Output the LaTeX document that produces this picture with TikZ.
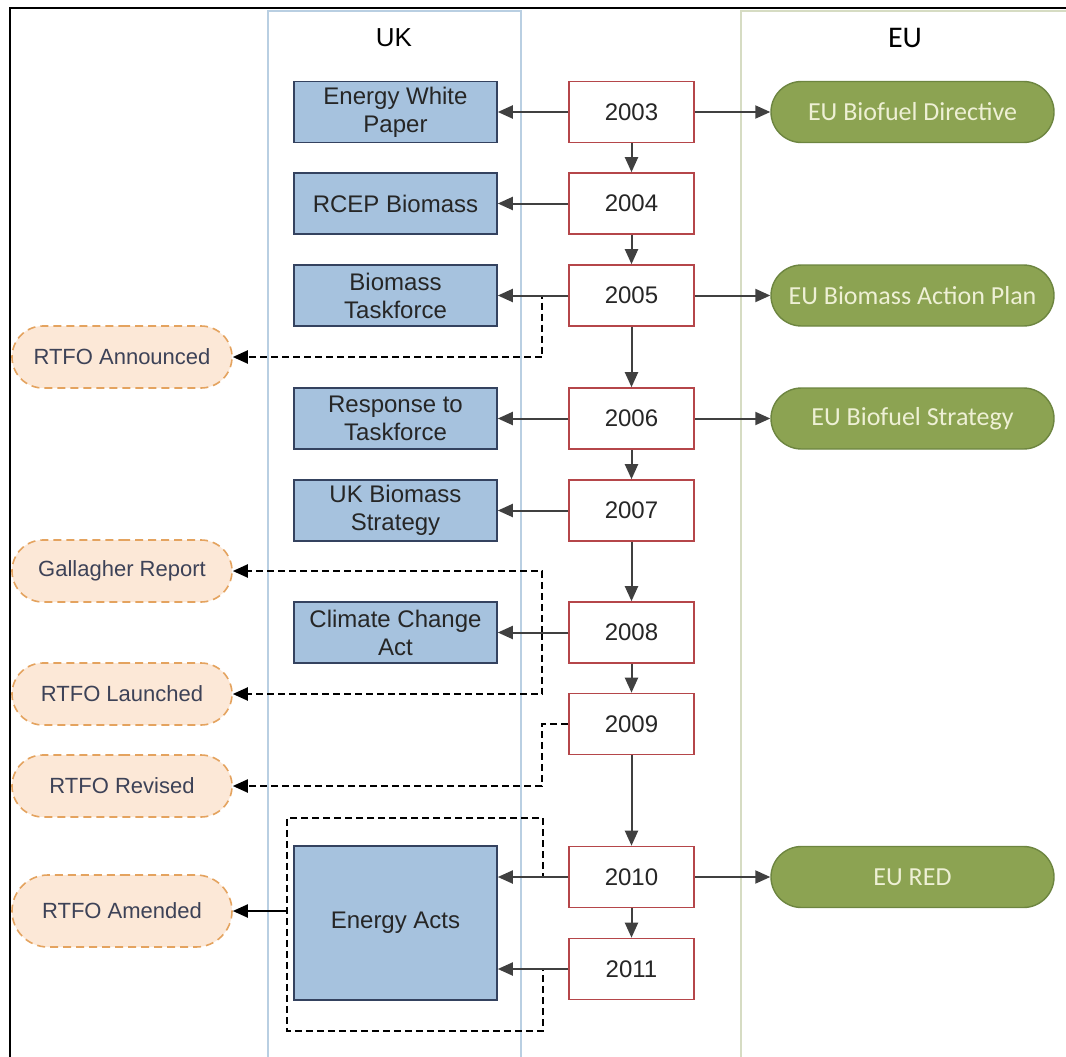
\documentclass[tikz,border=0pt]{standalone}
\usepackage{fontspec}
\setmainfont{Liberation Sans}
\newfontfamily\calibrifont{Carlito}
\usetikzlibrary{arrows.meta,shapes.misc}

\definecolor{ukfill}{HTML}{A6C2DE}
\definecolor{ukline}{HTML}{34425F}
\definecolor{yearline}{HTML}{B5464A}
\definecolor{eufill}{HTML}{8CA352}
\definecolor{euline}{HTML}{6D8540}
\definecolor{eutext}{HTML}{EEF0D5}
\definecolor{rtfofill}{HTML}{FCE8D7}
\definecolor{rtfoline}{HTML}{E4A35F}
\definecolor{rtfotext}{HTML}{3D4257}
\definecolor{arrowgray}{HTML}{404040}
\definecolor{uklane}{HTML}{B9CFE2}
\definecolor{eulane}{HTML}{D6DCC3}

\begin{document}
\begin{tikzpicture}[x=1pt,y=-1pt,
  yearbox/.style={rectangle, draw=yearline, line width=1.6pt, fill=white,
    minimum width=125pt, minimum height=61pt, inner sep=0pt,
    text=black!85, font=\fontsize{24}{28}\selectfont},
  ukbox/.style={rectangle, draw=ukline, line width=1.6pt, fill=ukfill,
    minimum width=203pt, minimum height=61pt, inner sep=0pt, align=center,
    text=black!85, font=\fontsize{24}{28}\selectfont},
  eupill/.style={rounded rectangle, draw=euline, line width=1.4pt, fill=eufill,
    minimum width=283pt, minimum height=61pt, inner sep=0pt,
    text=eutext, font=\calibrifont\fontsize{26}{30}\selectfont},
  rtfopill/.style={rounded rectangle, draw=rtfoline, line width=1.6pt,
    dash pattern=on 8pt off 5pt, fill=rtfofill,
    minimum width=220pt, minimum height=62pt, inner sep=0pt,
    text=rtfotext, font=\fontsize{22}{26}\selectfont},
  tip/.style={-{Triangle[length=15pt,width=13pt]}},
  solidarrow/.style={draw=arrowgray, line width=2pt, tip},
  dashconn/.style={draw=black, line width=2pt, dash pattern=on 7pt off 4pt},
  dasharrow/.style={dashconn, tip},
  lanetitle/.style={text=black, font=\fontsize{26}{30}\selectfont}
]
\useasboundingbox (0,0) rectangle (1066,1057);

% outer frame
\draw[line width=2pt] (10,1057) -- (10,8) -- (1066,8);

% swim lanes
\draw[uklane, line width=1.5pt] (268,1057) -- (268,11) -- (521,11) -- (521,1057);
\draw[eulane, line width=1.5pt] (741,1057) -- (741,11) -- (1066,11);
\node[lanetitle] (ukt) at (394,38) {UK};
\node[lanetitle, font=\calibrifont\fontsize{30}{34}\selectfont] (eut) at (905,38) {EU};

% timeline
\node[yearbox] (y2003) at (631.5,112) {2003};
\node[yearbox] (y2004) at (631.5,203.5) {2004};
\node[yearbox] (y2005) at (631.5,295.5) {2005};
\node[yearbox] (y2006) at (631.5,418.5) {2006};
\node[yearbox] (y2007) at (631.5,510.5) {2007};
\node[yearbox] (y2008) at (631.5,632.5) {2008};
\node[yearbox] (y2009) at (631.5,724) {2009};
\node[yearbox] (y2010) at (631.5,877) {2010};
\node[yearbox] (y2011) at (631.5,969) {2011};

% UK documents
\node[ukbox] (ewp) at (395.5,112) {Energy White\\Paper};
\node[ukbox] (rcep) at (395.5,203.5) {RCEP Biomass};
\node[ukbox] (btf) at (395.5,295.5) {Biomass\\Taskforce};
\node[ukbox] (resp) at (395.5,418.5) {Response to\\Taskforce};
\node[ukbox] (ukbs) at (395.5,510.5) {UK Biomass\\Strategy};
\node[ukbox] (cca) at (395.5,632.5) {Climate Change\\Act};
\node[ukbox, minimum height=154pt] (acts) at (395.5,923) {Energy Acts};

% EU documents
\node[eupill] (eubd) at (912.5,112) {EU Biofuel Directive};
\node[eupill] (eubap) at (912.5,295.5) {EU Biomass Action Plan};
\node[eupill] (eubs) at (912.5,418.5) {EU Biofuel Strategy};
\node[eupill] (eured) at (912.5,877) {EU RED};

% RTFO milestones
\node[rtfopill] (rann) at (122,357) {RTFO Announced};
\node[rtfopill] (rgal) at (122,571) {Gallagher Report};
\node[rtfopill] (rlau) at (122,694) {RTFO Launched};
\node[rtfopill] (rrev) at (122,786) {RTFO Revised};
\node[rtfopill, minimum height=72pt] (ramd) at (122,911) {RTFO Amended};

% group outline round the Energy Acts
\coordinate (gtl) at (287,818);
\coordinate (gbr) at (543,1031);
\coordinate (gleft) at (287,911);

% dashed links to the RTFO milestones
\draw[dasharrow] (y2005.west) -- ++(-26,0) |- (rann.east);
\draw[dashconn] (y2008.west) -- ++(-26,0) coordinate (j2008);
\draw[dasharrow] (j2008) |- (rgal.east);
\draw[dasharrow] (j2008) |- (rlau.east);
\draw[dasharrow] (y2009.west) -- ++(-26,0) |- (rrev.east);
\draw[dashconn] (y2010.west) -| (gbr |- gtl) -- (gtl) |- (gbr)
  -- (gbr |- y2011.west) -- (y2011.west);
\draw[line width=2pt, tip] (gleft) -- (ramd.east);

% timeline arrows
\draw[solidarrow] (y2003.south) -- (y2004.north);
\draw[solidarrow] (y2004.south) -- (y2005.north);
\draw[solidarrow] (y2005.south) -- (y2006.north);
\draw[solidarrow] (y2006.south) -- (y2007.north);
\draw[solidarrow] (y2007.south) -- (y2008.north);
\draw[solidarrow] (y2008.south) -- (y2009.north);
\draw[solidarrow] (y2009.south) -- (y2010.north);
\draw[solidarrow] (y2010.south) -- (y2011.north);

% years to UK documents
\draw[solidarrow] (y2003.west) -- (ewp.east);
\draw[solidarrow] (y2004.west) -- (rcep.east);
\draw[solidarrow] (y2005.west) -- (btf.east);
\draw[solidarrow] (y2006.west) -- (resp.east);
\draw[solidarrow] (y2007.west) -- (ukbs.east);
\draw[solidarrow] (y2008.west) -- (cca.east);
\draw[solidarrow] (y2010.west) -- (acts.east |- y2010.west);
\draw[solidarrow] (y2011.west) -- (acts.east |- y2011.west);

% years to EU documents
\draw[solidarrow] (y2003.east) -- (eubd.west);
\draw[solidarrow] (y2005.east) -- (eubap.west);
\draw[solidarrow] (y2006.east) -- (eubs.west);
\draw[solidarrow] (y2010.east) -- (eured.west);
\end{tikzpicture}
\end{document}
